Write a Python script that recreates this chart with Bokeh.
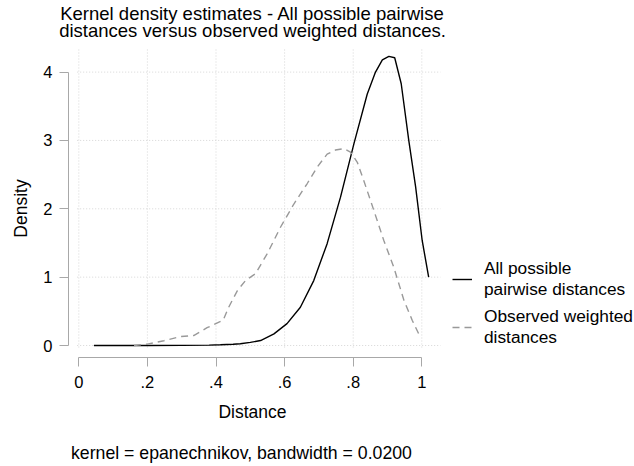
import math
from bokeh.plotting import figure
from bokeh.models import Range1d, FixedTicker, Legend, LegendItem, CustomJSTickFormatter, Label
from bokeh.embed import file_html
from bokeh.resources import INLINE

# ---- data ----
all_x = [0.044, 0.10, 0.20, 0.30, 0.38, 0.413, 0.45, 0.471, 0.50, 0.53, 0.569, 0.607,
         0.646, 0.685, 0.724, 0.763, 0.802, 0.841, 0.865, 0.885, 0.904, 0.921, 0.94,
         0.962, 0.982, 1.001, 1.02]
all_y = [0.0, 0.0, 0.0, 0.002, 0.006, 0.01, 0.018, 0.025, 0.045, 0.073, 0.17, 0.32,
         0.56, 0.95, 1.49, 2.17, 2.95, 3.68, 4.0, 4.18, 4.23, 4.21, 3.83,
         3.0, 2.32, 1.54, 1.0]

obs_x = [0.161, 0.20, 0.248, 0.296, 0.335, 0.374, 0.421, 0.437, 0.462, 0.486, 0.515,
         0.549, 0.588, 0.627, 0.666, 0.695, 0.724, 0.748, 0.773, 0.792, 0.812, 0.831,
         0.86, 0.889, 0.918, 0.948, 0.972, 0.991]
obs_y = [0.0, 0.02, 0.07, 0.13, 0.146, 0.26, 0.37, 0.56, 0.80, 0.95, 1.05,
         1.34, 1.73, 2.07, 2.37, 2.61, 2.80, 2.86, 2.88, 2.83, 2.68, 2.41,
         1.98, 1.54, 1.15, 0.66, 0.37, 0.17]

x_ticks = [0, 0.2, 0.4, 0.6, 0.8, 1.0]
x_tick_labels = ["0", ".2", ".4", ".6", ".8", "1"]
y_ticks = [0, 1, 2, 3, 4]
y_tick_labels = ["0", "1", "2", "3", "4"]

series_labels = ["All possible\npairwise distances", "Observed weighted\ndistances"]
title_lines = ["Kernel density estimates - All possible pairwise",
               "distances versus observed weighted distances."]
note_text = "kernel = epanechnikov, bandwidth = 0.0200"
x_title = "Distance"
y_title = "Density"

# ---- layout (pixels) ----
W, H = 634, 466
X0, XS = 78.3, 343.0                    # px of x=0, px per x unit
Y0, YS = 345.0, 68.35                   # px of y=0, px per y unit
AXIS_X_PX, AXIS_Y_PX = 68, 357          # where the y axis / x axis lines sit


def px2x(px):
    return (px - X0) / XS


def py2y(py):
    return (Y0 - py) / YS


FONT = "Liberation Sans"

p = figure(width=W, height=H, output_backend="svg", toolbar_location=None,
           x_range=Range1d(px2x(0), px2x(W)), y_range=Range1d(py2y(H), py2y(0)),
           min_border=0, min_border_left=0, min_border_right=0, min_border_top=0,
           min_border_bottom=0)
p.outline_line_color = None
p.xgrid.visible = False
p.ygrid.visible = False
p.background_fill_color = "white"
p.border_fill_color = "white"

# grid lines (dotted), spanning the plot region
GRID = "#d6d6d6"
gx0, gx1 = px2x(76.7), px2x(440)
gy0, gy1 = py2y(347), py2y(47)
p.segment(x0=[gx0] * len(y_ticks), y0=y_ticks, x1=[gx1] * len(y_ticks), y1=y_ticks,
          line_color=GRID, line_width=1, line_dash="1 2")
p.segment(x0=x_ticks, y0=[gy0] * len(x_ticks), x1=x_ticks, y1=[gy1] * len(x_ticks),
          line_color=GRID, line_width=1, line_dash="1 2")

r1 = p.line(all_x, all_y, line_color="black", line_width=1.4)
r2 = p.line(obs_x, obs_y, line_color="#999999", line_width=1.4, line_dash="7 5")

# axes (drawn at fixed positions, Stata-like offset from the data)
AX = "#a8a8a8"
FMT_CODE = ("let b = 0;"
            "for (let i = 0; i < tv.length; i++) { if (Math.abs(tv[i] - tick) < 1e-6) { b = i; } }"
            "return labs[b];")
p.xaxis.ticker = FixedTicker(ticks=x_ticks)
p.yaxis.ticker = FixedTicker(ticks=y_ticks)
p.xaxis.formatter = CustomJSTickFormatter(args=dict(labs=x_tick_labels, tv=x_ticks), code=FMT_CODE)
p.yaxis.formatter = CustomJSTickFormatter(args=dict(labs=y_tick_labels, tv=y_ticks), code=FMT_CODE)
p.xaxis.bounds = (x_ticks[0], x_ticks[-1])
p.yaxis.bounds = (y_ticks[0], y_ticks[-1])
p.xaxis.fixed_location = py2y(AXIS_Y_PX)
p.yaxis.fixed_location = px2x(AXIS_X_PX)
for ax in (p.xaxis[0], p.yaxis[0]):
    ax.axis_line_color = AX
    ax.axis_line_width = 1
    ax.major_tick_line_color = AX
    ax.major_tick_out = 9
    ax.major_tick_in = 0
    ax.minor_tick_out = 0
    ax.minor_tick_in = 0
    ax.major_label_text_font = FONT
    ax.major_label_text_font_size = "16.5px"
    ax.major_label_text_color = "black"
p.xaxis.major_label_standoff = 9
p.yaxis.major_label_standoff = 7

legend = Legend(items=[LegendItem(label=series_labels[0], renderers=[r1]),
                       LegendItem(label=series_labels[1], renderers=[r2])],
                location=(452, 118), border_line_color=None, background_fill_alpha=0,
                padding=0, margin=0, spacing=6, glyph_width=20, glyph_height=36,
                label_height=36, label_standoff=12, label_text_font=FONT,
                label_text_font_size="17.3px", label_text_line_height=1.04,
                label_text_color="black")
p.add_layout(legend)


def add_text(txt, xpx, ypx, size, align="center", baseline="middle", angle=0.0):
    p.add_layout(Label(x=px2x(xpx), y=py2y(ypx), text=txt, text_align=align,
                       text_baseline=baseline, text_font=FONT, text_font_size=size,
                       text_color="black", angle=angle))


add_text(title_lines[0], 252, 12.5, "18.5px")
add_text(title_lines[1], 252, 29.5, "18.5px")
add_text(x_title, 252, 411, "17.5px")
add_text(y_title, 20, 208, "17.5px", angle=math.pi / 2)
add_text(note_text, 70.5, 452, "17.7px", align="left")

open("out.html", "w").write(file_html(p, INLINE))
